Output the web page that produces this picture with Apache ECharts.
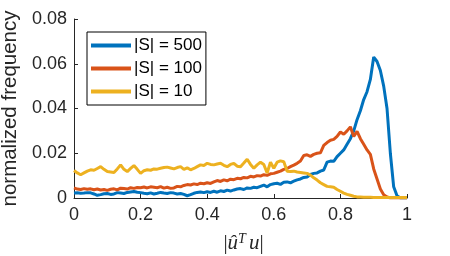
<!DOCTYPE html>
<html><head><meta charset="utf-8">
<script src="https://cdn.jsdelivr.net/npm/echarts@6/dist/echarts.min.js"></script>
<style>html,body{margin:0;padding:0;background:#fff}#c{width:450px;height:256px}</style>
</head><body><div id="c"></div>
<script>
const bins = [0,0.01,0.02,0.03,0.04,0.05,0.06,0.07,0.08,0.09,
0.10,0.11,0.12,0.13,0.14,0.15,0.16,0.17,0.18,0.19,
0.20,0.21,0.22,0.23,0.24,0.25,0.26,0.27,0.28,0.29,
0.30,0.31,0.32,0.33,0.34,0.35,0.36,0.37,0.38,0.39,
0.40,0.41,0.42,0.43,0.44,0.45,0.46,0.47,0.48,0.49,
0.50,0.51,0.52,0.53,0.54,0.55,0.56,0.57,0.58,0.59,
0.60,0.61,0.62,0.63,0.64,0.65,0.66,0.67,0.68,0.69,
0.70,0.71,0.72,0.73,0.74,0.75,0.76,0.77,0.78,0.79,
0.80,0.81,0.82,0.83,0.84,0.85,0.86,0.87,0.88,0.89,
0.90,0.91,0.92,0.93,0.94,0.95,0.96,0.97,0.98,0.99,1.00];

const s500 = [0.0022,0.0023,0.0021,0.0022,0.0024,0.0023,0.0018,0.0012,0.0015,0.0019,
0.0020,0.0016,0.0018,0.0024,0.0022,0.0020,0.0025,0.0027,0.0029,0.0026,
0.0024,0.0021,0.0019,0.0023,0.0018,0.0021,0.0025,0.0022,0.0020,0.0024,
0.0022,0.0018,0.0020,0.0016,0.0010,0.0015,0.0021,0.0025,0.0027,0.0024,
0.0028,0.0025,0.0030,0.0026,0.0032,0.0029,0.0035,0.0031,0.0036,0.0040,
0.0042,0.0038,0.0045,0.0043,0.0048,0.0046,0.0052,0.0058,0.0050,0.0060,
0.0064,0.0066,0.0061,0.0070,0.0072,0.0068,0.0075,0.0081,0.0085,0.0092,
0.0094,0.0105,0.0110,0.0112,0.0120,0.0125,0.0160,0.0165,0.0164,0.0185,
0.0200,0.0215,0.0240,0.0265,0.0300,0.0350,0.0390,0.0440,0.0475,0.0530,
0.0630,0.0610,0.0570,0.0500,0.0400,0.0200,0.0050,0.0010,0,0,0];

const s100 = [0.0045,0.0040,0.0038,0.0042,0.0039,0.0041,0.0037,0.0040,0.0036,0.0038,
0.0034,0.0039,0.0041,0.0036,0.0044,0.0042,0.0040,0.0046,0.0043,0.0047,
0.0046,0.0049,0.0045,0.0050,0.0048,0.0046,0.0051,0.0044,0.0048,0.0043,
0.0045,0.0052,0.0050,0.0056,0.0060,0.0058,0.0063,0.0060,0.0066,0.0064,
0.0068,0.0065,0.0072,0.0078,0.0074,0.0081,0.0077,0.0084,0.0082,0.0088,
0.0086,0.0092,0.0090,0.0097,0.0094,0.0100,0.0098,0.0104,0.0101,0.0108,
0.0110,0.0115,0.0120,0.0128,0.0132,0.0140,0.0147,0.0155,0.0165,0.0190,
0.0193,0.0186,0.0195,0.0200,0.0202,0.0235,0.0248,0.0258,0.0262,0.0275,
0.0295,0.0285,0.0300,0.0318,0.0275,0.0298,0.0265,0.0240,0.0215,0.0195,
0.0130,0.0085,0.0040,0.0015,0.0005,0,0,0,0,0,0];

const s10 = [0.0123,0.0112,0.0104,0.0112,0.0120,0.0126,0.0124,0.0132,0.0140,0.0128,
0.0118,0.0116,0.0114,0.0130,0.0148,0.0128,0.0118,0.0132,0.0145,0.0128,
0.0110,0.0122,0.0126,0.0124,0.0130,0.0129,0.0133,0.0136,0.0138,0.0134,
0.0130,0.0136,0.0140,0.0128,0.0135,0.0126,0.0132,0.0140,0.0148,0.0145,
0.0155,0.0150,0.0148,0.0152,0.0155,0.0146,0.0140,0.0150,0.0155,0.0142,
0.0140,0.0156,0.0173,0.0150,0.0133,0.0148,0.0160,0.0150,0.0112,0.0160,
0.0133,0.0160,0.0166,0.0162,0.0120,0.0118,0.0120,0.0116,0.0114,0.0112,
0.0110,0.0102,0.0090,0.0080,0.0068,0.0060,0.0052,0.0050,0.0048,0.0038,
0.0030,0.0022,0.0016,0.0012,0.0008,0.0005,0.0004,0.0003,0.0003,0.0003,
0.0002,0.0002,0.0002,0.0002,0.0002,0.0002,0.0002,0.0002,0.0002,0.0002,0.0002];

const seriesNames = ['|S| = 500','|S| = 100','|S| = 10'];
const seriesData = [s500, s100, s10];
const colors = ['#0072BD','#D95319','#EDB120'];
const xTicks = [0,0.2,0.4,0.6,0.8,1];
const yTicks = [0,0.02,0.04,0.06,0.08];
const yName = 'normalized frequency';

const txt = '#262626';
const font = 'Liberation Sans, Arial, sans-serif';
const serif = 'Liberation Serif, serif';
const chart = echarts.init(document.getElementById('c'), null, {renderer:'canvas'});
chart.setOption({
  animation:false,
  color: colors,
  grid:{left:74,right:43,top:19,bottom:58,containLabel:false,outerBoundsMode:'none'},
  legend:{
    orient:'vertical', left:87, top:32,
    data: seriesNames,
    icon:'rect', itemWidth:40, itemHeight:4, itemGap:6,
    borderColor:'#000', borderWidth:1, padding:[5,4,5,4],
    backgroundColor:'#fff',
    textStyle:{fontFamily:font,fontSize:17,color:'#000',padding:[0,0,0,-2]}
  },
  xAxis:{
    type:'value', min:0, max:1, interval:0.2,
    axisLine:{lineStyle:{color:txt,width:1}},
    axisTick:{inside:true,length:4,lineStyle:{color:txt}},
    axisLabel:{color:txt,fontFamily:font,fontSize:18,margin:8,
      formatter:v=>xTicks.includes(+v.toFixed(2))?String(+v.toFixed(2)):''},
    splitLine:{show:false},
    name:'{p||}{v|û}{s|T}{v|u}{p||}',
    nameLocation:'middle', nameGap:34,
    nameTextStyle:{padding:[0,0,0,6],rich:{
      p:{fontFamily:serif,fontSize:21,color:txt},
      v:{fontFamily:serif,fontStyle:'italic',fontSize:21,color:txt},
      s:{fontFamily:serif,fontStyle:'italic',fontSize:14,color:txt,verticalAlign:'top',padding:[0,3,9,0]}
    }}
  },
  yAxis:{
    type:'value', min:0, max:0.08, interval:0.02,
    axisLine:{show:true,lineStyle:{color:txt,width:1}},
    axisTick:{show:true,inside:true,length:4,lineStyle:{color:txt}},
    axisLabel:{color:txt,fontFamily:font,fontSize:18,margin:7,
      formatter:v=>v===0?'0':v.toFixed(2)},
    splitLine:{show:false},
    name:yName, nameLocation:'middle', nameGap:47,
    nameTextStyle:{color:txt,fontFamily:font,fontSize:20.5}
  },
  series: seriesData.map((d,i)=>({
    name:seriesNames[i], type:'line', showSymbol:false, symbol:'none',
    lineStyle:{width:3,color:colors[i]},
    data: bins.map((x,j)=>[x,d[j]])
  }))
});
</script></body></html>
